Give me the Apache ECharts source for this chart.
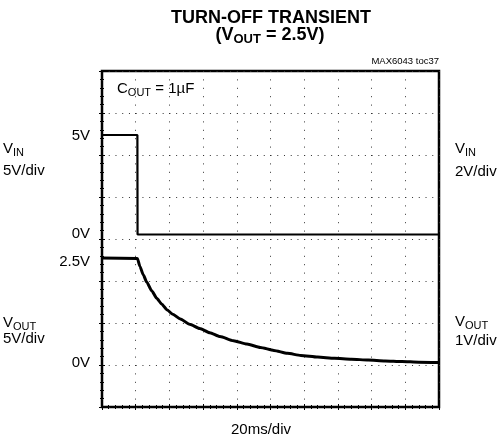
<!DOCTYPE html>
<html>
<head>
<meta charset="utf-8">
<script src="https://cdn.jsdelivr.net/npm/echarts@6/dist/echarts.min.js"></script>
<style>
  html, body { margin: 0; padding: 0; background: #fff; }
  #chart { width: 498px; height: 443px; }
</style>
</head>
<body>
<div id="chart"></div>
<script>
// time axis, ms (10 div x 20ms)
var timeTicks = [0, 20, 40, 60, 80, 100, 120, 140, 160, 180, 200];

// VIN trace (V)
var vinTime = [0, 21, 21.1, 200];
var vinVolts = [5.0, 5.0, 0.0, 0.0];

// VOUT trace (V)
var voutTime = [0, 21, 22.5, 24.5, 26.5, 29.5, 32.5, 35.5, 38.5, 42, 46.5, 52, 58, 64, 70, 78, 86, 94, 102, 110, 118, 128, 138, 148, 158, 168, 178, 188, 200];
var voutVolts = [2.5, 2.49, 2.3, 2.1, 1.93, 1.72, 1.54, 1.4, 1.27, 1.16, 1.05, 0.92, 0.82, 0.72, 0.63, 0.53, 0.45, 0.37, 0.3, 0.23, 0.18, 0.14, 0.11, 0.09, 0.07, 0.05, 0.035, 0.02, 0.01];

var FONT = "'Liberation Sans', Arial, sans-serif";

function pairs(xs, ys) {
  return xs.map(function (x, i) { return [x, ys[i]]; });
}

function label(x, y, text, size, align, weight) {
  return {
    type: 'text', x: x, y: y,
    style: {
      text: text, fill: '#000',
      fontSize: size, fontFamily: FONT, fontWeight: weight || 'normal',
      align: align || 'left', textAlign: align || 'left',
      verticalAlign: 'middle', textVerticalAlign: 'middle'
    }
  };
}

function subLabel(x, y, rich, size, align, weight) {
  var t = label(x, y, rich, size, align, weight);
  t.style.rich = {
    n: { fontSize: size, fontFamily: FONT, fontWeight: weight || 'normal', lineHeight: size + 4 },
    s: { fontSize: Math.round(size * 0.72), fontFamily: FONT, fontWeight: weight || 'normal', lineHeight: 8, verticalAlign: 'bottom' }
  };
  return t;
}

var dotted = function (period) { return { color: '#333', width: 1, type: [1, period - 1] }; };

var edgeTicks = {
  axisTick: { show: true, inside: true, length: 3, lineStyle: { color: '#000' } },
  minorTick: { show: true, splitNumber: 5, length: 2, lineStyle: { color: '#000' } }
};

var chart = echarts.init(document.getElementById('chart'));
var option = {
  animation: false,
  grid: { left: 102, top: 71, right: 59, bottom: 36, show: true, borderColor: '#000', borderWidth: 2.5, backgroundColor: 'transparent' },
  xAxis: [
    {
      type: 'value', min: 0, max: 200, interval: 20,
      axisLine: { show: false }, axisLabel: { show: false },
      axisTick: edgeTicks.axisTick, minorTick: edgeTicks.minorTick,
      splitLine: { show: true, lineStyle: dotted(8.4) }
    },
    {
      type: 'value', position: 'top', min: 0, max: 200, interval: 20,
      axisLine: { show: false }, axisLabel: { show: false },
      axisTick: edgeTicks.axisTick, minorTick: edgeTicks.minorTick,
      splitLine: { show: false }
    }
  ],
  yAxis: [
    {
      type: 'value', min: 0, max: 8, interval: 1,
      axisLine: { show: false }, axisLabel: { show: false },
      axisTick: edgeTicks.axisTick, minorTick: edgeTicks.minorTick,
      splitLine: { show: true, lineStyle: dotted(6.74) }
    },
    {
      type: 'value', position: 'right', min: 0, max: 8, interval: 1,
      axisLine: { show: false }, axisLabel: { show: false },
      axisTick: edgeTicks.axisTick, minorTick: edgeTicks.minorTick,
      splitLine: { show: false }
    },
    // VIN scale: 0V at 234.5px, 5V at 135px
    { type: 'value', show: false, min: -8.668, max: 8.216 },
    // VOUT scale: 0V at 363px, 42px per volt
    { type: 'value', show: false, min: -1.048, max: 6.952 }
  ],
  series: [
    {
      name: 'VIN', type: 'line', xAxisIndex: 0, yAxisIndex: 2,
      data: pairs(vinTime, vinVolts), showSymbol: false,
      lineStyle: { color: '#000', width: 2.2 }
    },
    {
      name: 'VOUT', type: 'line', xAxisIndex: 0, yAxisIndex: 3,
      data: pairs(voutTime, voutVolts), showSymbol: false,
      smooth: 0.2, smoothMonotone: 'x',
      lineStyle: { color: '#000', width: 3 }
    }
  ],
  graphic: [
    label(271, 18, 'TURN-OFF TRANSIENT', 18, 'center', 'bold'),
    subLabel(270, 35, '{n|(V}{s|OUT}{n| = 2.5V)}', 18, 'center', 'bold'),
    label(439, 61, 'MAX6043 toc37', 9.5, 'right'),
    subLabel(117, 89, '{n|C}{s|OUT}{n| = 1µF}', 15, 'left'),

    subLabel(3, 149, '{n|V}{s|IN}', 15, 'left'),
    label(3, 171, '5V/div', 15, 'left'),
    label(90, 136, '5V', 15, 'right'),
    label(90, 234, '0V', 15, 'right'),
    label(90, 262, '2.5V', 15, 'right'),
    label(90, 363, '0V', 15, 'right'),
    subLabel(3, 323, '{n|V}{s|OUT}', 15, 'left'),
    label(3, 339, '5V/div', 15, 'left'),

    subLabel(455, 149, '{n|V}{s|IN}', 15, 'left'),
    label(455, 172, '2V/div', 15, 'left'),
    subLabel(455, 322, '{n|V}{s|OUT}', 15, 'left'),
    label(455, 341, '1V/div', 15, 'left'),

    label(261, 430, '20ms/div', 15, 'center')
  ]
};
chart.setOption(option);
</script>
</body>
</html>
